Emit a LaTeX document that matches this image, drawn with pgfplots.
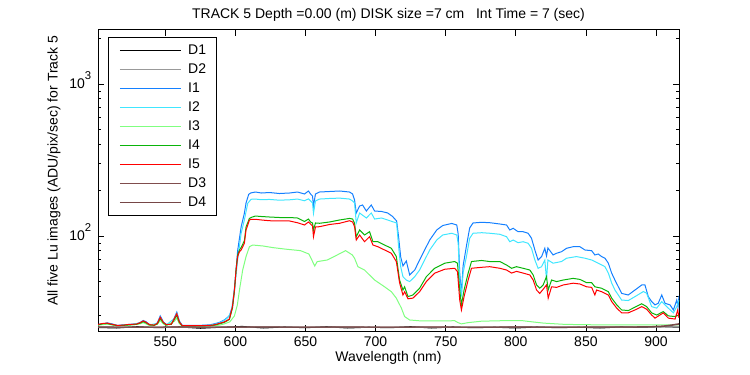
\documentclass[border=0pt]{standalone}
\usepackage{pgfplots}
\pgfplotsset{compat=1.18}
\usepackage{fontspec}
\setmainfont{Liberation Sans}
\definecolor{cD1}{RGB}{0,0,0}
\definecolor{cD2}{RGB}{153,153,153}
\definecolor{cI1}{RGB}{20,128,255}
\definecolor{cI2}{RGB}{64,230,255}
\definecolor{cI3}{RGB}{128,255,128}
\definecolor{cI4}{RGB}{10,180,10}
\definecolor{cI5}{RGB}{255,0,0}
\definecolor{cD3}{RGB}{128,77,77}
\definecolor{cD4}{RGB}{118,70,70}
\newcommand{\sfont}{\fontsize{10.5}{12}\selectfont}
\begin{document}
\begin{tikzpicture}[x=1pt,y=1pt]
\useasboundingbox (0,0) rectangle (562.5,281.25);
\begin{axis}[
  at={(73.5pt,33pt)}, anchor=south west,
  scale only axis, width=435.75pt, height=226.1pt,
  ymode=log,
  xmin=502, xmax=916.4, ymin=23.7, ymax=2283,
  xtick={550,600,650,700,750,800,850,900},
  ytick={100,1000},
  yticklabels={10\smash{\raisebox{7pt}{\fontsize{8.5}{9}\selectfont 2}},10\smash{\raisebox{7pt}{\fontsize{8.5}{9}\selectfont 3}}},
  minor ytick={30,40,50,60,70,80,90,200,300,400,500,600,700,800,900,2000},
  tick align=inside,
  major tick length=4.5pt, minor tick length=2.5pt,
  axis line style={line width=0.6pt},
  every tick/.style={black, line width=0.6pt},
  /pgf/number format/assume math mode=true,
  tick label style={font=\sfont},
  xticklabel style={yshift=-1pt},
  yticklabel style={xshift=-1.5pt},
  title={TRACK 5 Depth =0.00 (m) DISK size =7 cm \ \ Int Time = 7 (sec)},
  title style={font=\sfont, at={(axis description cs:0.5,1)}, anchor=base, yshift=2.5pt},
  xlabel={Wavelength (nm)},
  xlabel style={font=\sfont, at={(axis description cs:0.5,-0.09)}, anchor=center},
  ylabel={All five Lu images (ADU/pix/sec) for Track 5},
  ylabel style={font=\sfont, at={(axis description cs:-0.0757,0.5316)}, anchor=center},
  legend style={at={(0.0172,0.9767)}, anchor=north west, draw=black, line width=0.6pt, fill=white,
    inner xsep=8pt, inner ysep=4pt, row sep=2.25pt, column sep=5pt, font=\sfont,
    nodes={inner sep=0pt, text height=9.5pt, text depth=2.5pt, anchor=west}},
  legend image code/.code={\draw[#1,line width=1.1pt] (0pt,0pt) -- (45.75pt,0pt);},
  every axis plot/.append style={line width=0.75pt},
]
\addplot[cD1] coordinates {(502,25.0) (515,24.8) (530,25.3) (545,24.9) (560,25.2) (575,24.7) (590,25.1) (605,25.4) (620,24.8) (635,25.2) (650,24.9) (665,25.3) (680,24.8) (695,25.1) (710,24.9) (725,25.3) (740,24.8) (755,25.2) (770,24.9) (785,25.1) (800,24.8) (815,25.2) (830,24.9) (845,25.1) (860,24.8) (875,25.2) (890,25.0) (905,25.3) (916.4,25.1)};
\addlegendentry{D1}
\addplot[cD2] coordinates {(502,25.1) (560,25.0) (620,25.2) (680,25.1) (740,25.0) (800,25.2) (860,25.1) (916.4,25.2)};
\addlegendentry{D2}
\addplot[cI1] coordinates {(502.1,26.2) (505.7,26.4) (508.6,26.8) (512.1,26.4) (515.7,25.8) (520,26.0) (524.3,26.2) (529.3,26.4) (532.1,27.0) (534.3,27.8) (536.4,27.2) (538.6,26.2) (542.1,26.0) (544.3,26.8) (546.4,29.8) (548.6,27.2) (550.7,26.2) (554.3,26.4) (556.4,28.9) (558.2,31.6) (560,27.6) (562.1,25.8) (567.1,25.8) (574.3,25.8) (581.4,26.0) (584.8,26.4) (588.6,27.0) (592.1,28.0) (595.7,29.8) (597.9,34.5) (599.3,45.0) (600.5,60.0) (601.6,80.0) (604.1,114.8) (606.4,141.1) (607.6,165) (609.5,188) (611,192) (614.3,194.7) (618.6,191.8) (624.3,193.2) (631.4,190.3) (638.6,191.8) (644.3,194.7) (649.3,188.9) (652.1,197.7) (653.6,188.9) (655,183.3) (655.7,157.5) (657.1,188.9) (660,194.7) (667.1,196.2) (674.3,197.7) (681.4,194.7) (683.6,188.9) (685,172.5) (686.2,141.7) (688.6,157.5) (690.7,159.9) (693.4,146.0) (696.9,159.9) (699.3,146.0) (704.3,144.9) (708.6,141.7) (712.1,134.4) (715,125.5) (716.4,98.5) (717.9,72.8) (719.5,63.5) (721.9,68.5) (724.3,55.4) (727.9,59.7) (731.4,69.5) (735,80.9) (738.6,94.1) (743.6,109.5) (747.9,117.2) (754.3,120.9) (757.9,118.1) (758.9,103.1) (760,57.1) (761.2,41.5) (762.4,63.5) (764.8,86.0) (767.1,112.9) (769.5,121.8) (775.7,123.0) (781.4,122.3) (788.6,119.9) (793.4,118.1) (795.7,109.5) (798.1,112.4) (801.6,106.7) (805.2,106.7) (808.8,104.2) (811.2,96.6) (813.6,80.9) (815.9,69.5) (818.4,73.2) (820.7,83.0) (821.9,73.9) (822.9,83.4) (826.6,75.0) (829.1,77.0) (832.6,78.8) (836.2,83.0) (840.9,85.0) (845.7,85.0) (849.3,80.9) (854.1,80.0) (856.4,75.0) (858.8,76.1) (861.2,73.2) (863.6,71.4) (866,66.2) (868.4,56.9) (870.7,51.3) (875.5,41.9) (880.2,40.9) (885,44.1) (889.8,47.6) (892.1,47.6) (894.5,39.9) (896.9,37.0) (899.3,35.2) (901.6,36.1) (904.1,40.9) (906.4,36.1) (910,35.2) (912.4,32.6) (914.8,37.9) (915.7,34.1) (916.4,40.3)};
\addlegendentry{I1}
\addplot[cI2] coordinates {(502.1,26.0) (508.6,26.6) (515.7,25.7) (524.3,26.0) (532.1,26.8) (534.3,27.5) (538.6,26.0) (544.3,26.6) (546.4,29.2) (548.6,27.0) (550.7,26.0) (556.4,28.6) (558.2,31.0) (560,27.3) (562.1,25.7) (574.3,25.7) (581.4,25.9) (585,26.2) (588.6,26.8) (592.1,27.8) (594.5,29.0) (596.9,31.2) (599.3,44.1) (601.6,69.5) (604.1,104.2) (606.4,127.4) (608.8,164.0) (611.2,174.4) (614.3,175.0) (618.6,173.2) (624.3,174.0) (631.4,172.0) (638.6,173.0) (644.3,175.0) (649.3,170.5) (652.1,175.5) (653.6,170.0) (655,165.0) (655.7,141.0) (657.1,170.0) (660,175.0) (667.1,176.5) (674.3,177.5) (681.4,175.0) (683.6,170.0) (685,164.8) (686.2,121.8) (688.6,141.7) (693.4,131.3) (696.9,141.7) (699.3,129.3) (704.3,131.3) (708.6,127.4) (712.1,124.2) (715,121.8) (716.4,85.0) (717.9,62.8) (719.5,54.0) (721.9,51.3) (724.3,50.1) (727.9,54.0) (731.4,59.7) (735,69.5) (738.6,80.9) (743.6,94.1) (747.9,101.5) (754.3,104.2) (757.9,101.5) (758.9,89.5) (760,51.3) (761.2,39.9) (762.4,57.1) (764.8,73.2) (767.1,96.6) (769.5,104.2) (775.7,105.1) (781.4,104.2) (788.6,102.6) (793.4,98.9) (795.7,91.7) (798.1,94.1) (801.6,90.3) (805.2,91.7) (808.8,89.5) (811.2,83.0) (813.6,69.5) (815.9,61.3) (818.4,62.8) (820.7,69.5) (821.9,51.3) (822.9,69.5) (826.6,66.2) (832.6,67.9) (836.2,71.4) (843.3,73.2) (849.3,71.4) (854.1,69.5) (858.8,66.2) (863.6,62.8) (866,57.0) (868.4,49.0) (870.7,44.1) (875.5,37.9) (880.2,37.6) (885,39.9) (891,43.1) (893.3,42.0) (896.9,34.3) (900.5,33.5) (904.1,37.0) (907.6,34.3) (912.4,31.2) (914.8,34.3) (916.4,37.9)};
\addlegendentry{I2}
\addplot[cI3] coordinates {(502.1,25.9) (508.6,26.3) (515.7,25.6) (524.3,25.9) (532.1,26.4) (534.3,26.9) (538.6,25.8) (544.3,26.2) (546.4,27.8) (548.6,26.4) (550.7,25.8) (556.4,27.4) (558.2,28.8) (560,26.5) (562.1,25.5) (581.4,25.5) (588.6,25.9) (592.1,26.4) (596,27.2) (599.3,29.8) (601.4,35.2) (602.9,44.1) (605.2,59.7) (607.6,73.2) (610,85.0) (612.4,87.2) (619.8,85.9) (626.9,83.8) (636.4,81.8) (646.4,80.1) (652.4,76.1) (656.6,63.5) (658.3,67.8) (665.5,69.5) (672.6,75.0) (678.6,80.1) (683.4,75.0) (685,71.3) (687.4,62.8) (692.1,59.7) (699.3,51.3) (706.4,46.3) (711.2,43.0) (714.8,39.0) (718.4,33.5) (720.7,29.5) (724.3,28.0) (732.6,27.6) (744.5,27.6) (756.4,27.7) (758.8,26.9) (761.2,26.4) (766,26.9) (775.5,27.5) (790,27.7) (805,27.7) (812,27.2) (820,26.7) (835,26.2) (860,26.0) (890,26.0) (916.4,26.0)};
\addlegendentry{I3}
\addplot[cI4] coordinates {(502.1,26.0) (505.7,26.5) (508.6,26.5) (512.1,26.1) (515.7,25.7) (520,25.8) (524.3,26.0) (529.3,26.2) (532.1,26.7) (534.3,27.3) (536.4,26.8) (538.6,26.0) (542.1,25.8) (544.3,26.4) (546.4,28.6) (548.6,26.8) (550.7,26.0) (554.3,26.2) (556.4,28.2) (558.2,30.0) (560,27.0) (562.1,25.6) (574.3,25.6) (581.4,25.7) (585,25.9) (588.6,26.4) (592.1,27.0) (595.7,28.2) (597.9,33.5) (599.3,43.0) (600.5,60.5) (601.6,75.0) (602.9,80.9) (604.1,84.0) (606.4,93.0) (607.6,114.8) (610,130.5) (612.1,133.3) (614.3,135.3) (618.6,134.3) (624.3,133.3) (631.4,132.3) (638.6,132.3) (644.3,131.3) (649.3,124.6) (652.1,129.3) (653.6,123.6) (655,121.8) (655.7,109.5) (657.1,121.8) (660,121.2) (667.1,123.6) (674.3,127.4) (681.4,130.5) (683.6,129.3) (685,121.2) (686.2,98.9) (688.6,109.5) (692.1,101.5) (695.7,106.7) (698.1,91.7) (701.6,91.7) (706.4,87.2) (711.2,83.0) (714.8,73.2) (717.1,51.3) (719.5,44.1) (720.7,46.3) (723.1,39.9) (726.6,40.9) (731.4,45.3) (736.2,54.0) (742.1,61.3) (749.3,66.2) (756.4,67.9) (758.4,66.2) (760,44.1) (761.2,35.2) (763.1,44.1) (766,56.9) (768.4,67.9) (775.5,69.0) (781.4,67.9) (788.6,67.9) (793.4,64.4) (797,61.3) (800.5,62.8) (805.2,61.3) (810,59.7) (812.4,55.4) (814.8,47.6) (817.1,45.3) (819.5,47.6) (821.9,54.0) (823.1,44.1) (825.5,51.3) (829.1,50.1) (833.8,51.3) (840.9,52.6) (845.7,51.8) (850.5,49.3) (854.1,49.3) (856.4,46.3) (861.2,45.3) (866,43.0) (868.4,39.0) (872,35.2) (875.5,32.6) (880.2,32.3) (885,34.0) (889.8,35.8) (893.3,34.3) (896.9,31.2) (900.5,30.2) (905.2,31.8) (908.8,29.8) (913.6,29.5) (916.4,30.2)};
\addlegendentry{I4}
\addplot[cI5] coordinates {(502.1,26.2) (505.7,26.6) (508.6,26.7) (512.1,26.2) (515.7,25.8) (520,25.9) (524.3,26.2) (529.3,26.3) (532.1,26.9) (534.3,27.6) (536.4,27.0) (538.6,26.1) (542.1,25.9) (544.3,26.6) (546.4,29.2) (548.6,27.0) (550.7,26.1) (554.3,26.3) (556.4,28.5) (558.2,30.8) (560,27.2) (562.1,25.7) (574.3,25.7) (581.4,25.8) (585,26.0) (588.6,26.6) (592.1,27.2) (595.7,28.4) (597.9,34.3) (599.3,44.1) (600.5,59.7) (601.6,73.2) (602.9,78.8) (604.1,80.9) (606.4,89.5) (607.6,109.5) (610,127.4) (611.2,128.8) (614.3,128.8) (618.6,127.4) (624.3,126.0) (631.4,125.5) (638.6,125.5) (644.3,122.2) (649.3,118.1) (652.1,123.6) (653.6,119.9) (655,116.3) (655.7,98.9) (657.1,114.6) (660,115.1) (667.1,119.0) (674.3,121.2) (681.4,126.0) (683.6,123.6) (685,115.1) (686.2,94.1) (688.6,101.5) (692.1,91.7) (695.7,98.9) (698.1,87.2) (701.6,85.0) (706.4,80.9) (711.2,77.0) (714.8,67.9) (717.1,49.2) (719.5,40.9) (720.7,43.0) (723.1,38.6) (726.6,39.0) (731.4,43.0) (736.2,50.1) (742.1,56.9) (749.3,60.4) (756.4,61.3) (758.4,58.3) (760,37.9) (761.2,32.6) (763.1,39.9) (766,51.3) (768.4,61.3) (775.5,62.2) (781.4,62.8) (788.6,61.3) (793.4,59.7) (797,57.0) (800.5,58.5) (805.2,57.0) (810,55.4) (812.4,51.3) (814.8,44.1) (817.1,41.9) (819.5,44.6) (821.9,47.6) (823.1,39.0) (825.5,46.3) (829.1,45.9) (833.8,47.6) (840.9,48.9) (845.7,48.3) (850.5,46.3) (854.1,45.9) (856.4,40.9) (857.6,44.1) (861.2,43.0) (866,40.9) (868.4,37.0) (872,33.5) (875.5,31.2) (880.2,31.2) (885,32.6) (889.8,34.3) (893.3,33.0) (896.9,30.2) (899.3,28.8) (905.2,31.2) (908.8,28.8) (913.6,28.4) (915.5,32.6) (916.4,28.9)};
\addlegendentry{I5}
\addplot[cD3] coordinates {(502,25.2) (560,25.1) (620,25.2) (680,25.1) (740,25.2) (800,25.1) (860,25.2) (895,25.3) (905,25.6) (911,26.0) (916.4,26.5)};
\addlegendentry{D3}
\addplot[cD4] coordinates {(502,25.1) (560,25.2) (620,25.1) (680,25.2) (740,25.1) (800,25.2) (860,25.1) (895,25.2) (905,25.4) (911,25.8) (916.4,26.2)};
\addlegendentry{D4}
\end{axis}
\end{tikzpicture}
\end{document}
